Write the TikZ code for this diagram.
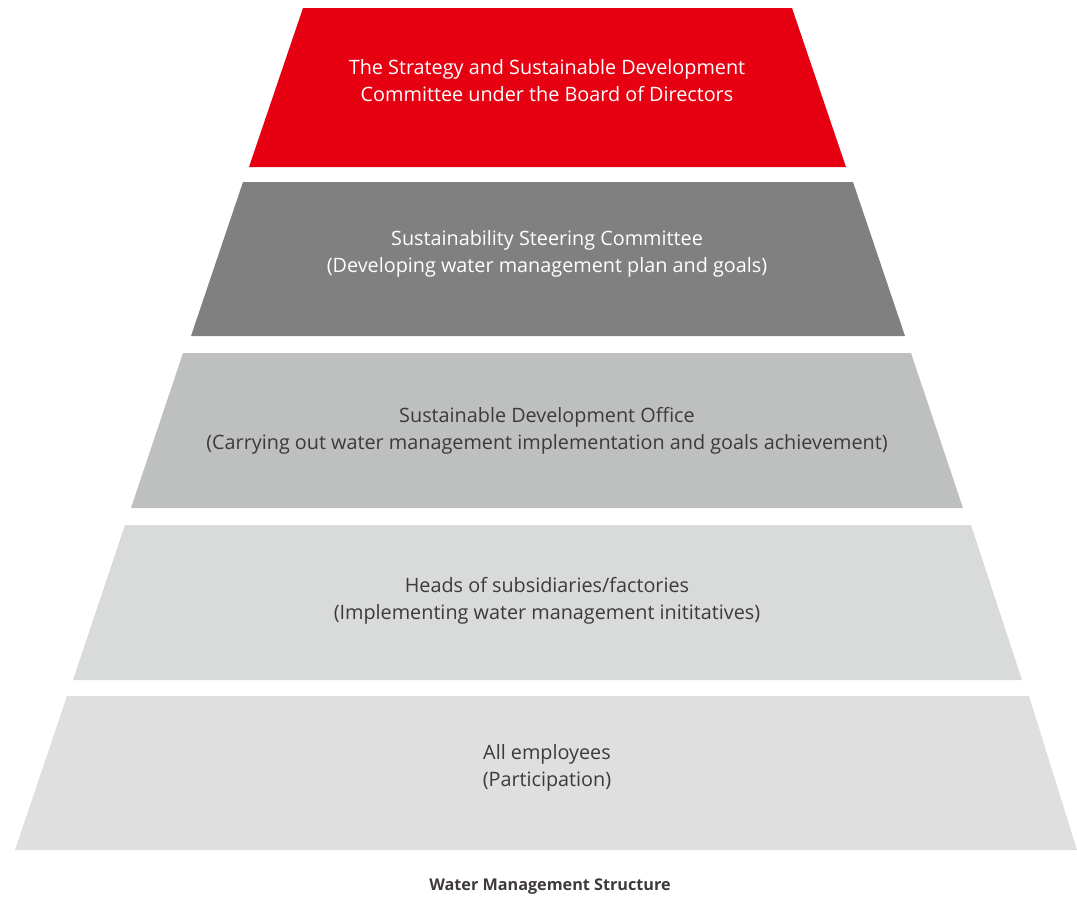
\documentclass[tikz,border=0pt]{standalone}
\usepackage{fontspec}
\setmainfont{Open Sans}
\definecolor{tierred}{HTML}{E60012}
\definecolor{tierdark}{HTML}{808080}
\definecolor{tiermid}{HTML}{BEBFBF}
\definecolor{tierlight}{HTML}{D9DADA}
\definecolor{tierpale}{HTML}{DFDFDF}
\definecolor{textgrey}{HTML}{3E3A39}
\tikzset{
  tierlabel/.style={align=center,font=\fontsize{19.8}{27}\selectfont},
  caption/.style={font=\bfseries\fontsize{16.2}{18}\selectfont,text=textgrey}
}
\begin{document}
\begin{tikzpicture}[x=1pt,y=-1pt]
    \useasboundingbox (0,0) rectangle (1077,897);
    % tiers, top to bottom
    \fill[tierred] (303,8) -- (792,8) -- (846,167) -- (249,167) -- cycle;
    \fill[tierdark] (243,182) -- (853,182) -- (905,336) -- (191,336) -- cycle;
    \fill[tiermid] (183,353) -- (911,353) -- (963,508) -- (131,508) -- cycle;
    \fill[tierlight] (125,525) -- (971,525) -- (1022,680) -- (73,680) -- cycle;
    \fill[tierpale] (67,696) -- (1029,696) -- (1077,850) -- (15,850) -- cycle;
    \node[tierlabel,text=white] (board) at (547,81) {The Strategy and Sustainable Development\\Committee under the Board of Directors};
    \node[tierlabel,text=white] (steering) at (547,254) {Sustainability Steering Committee\\(Developing water management plan and goals)};
    \node[tierlabel,text=textgrey] (office) at (547,431) {Sustainable Development Office\\(Carrying out water management implementation and goals achievement)};
    \node[tierlabel,text=textgrey] (heads) at (547,601) {Heads of subsidiaries/factories\\(Implementing water management inititatives)};
    \node[tierlabel,text=textgrey] (staff) at (547,768) {All employees\\(Participation)};
    \node[caption] (title) at (550,887) {Water Management Structure};
  \end{tikzpicture}
\end{document}
